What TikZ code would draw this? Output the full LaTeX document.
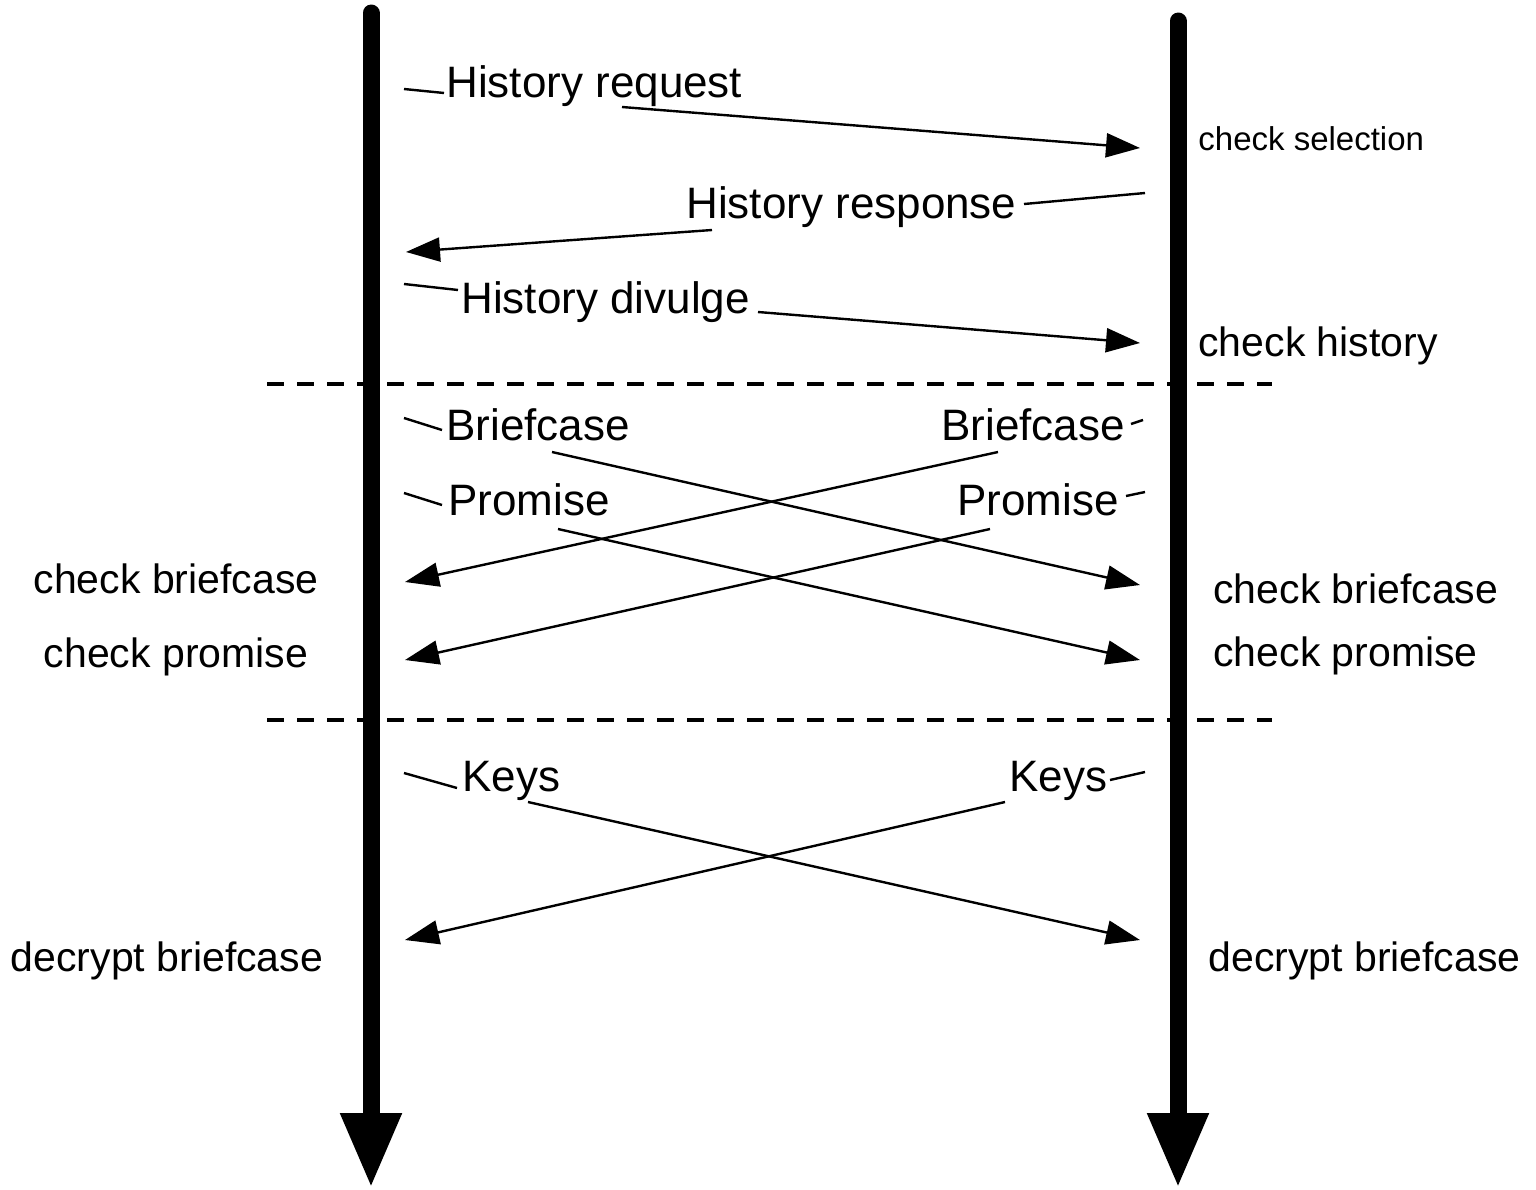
\documentclass[tikz,border=0pt]{standalone}
\usepackage{fontspec}
\setmainfont{Liberation Sans}
\usetikzlibrary{arrows.meta}
\begin{document}
\begin{tikzpicture}[x=0.5pt,y=-0.5pt,
  msg/.style={inner sep=0pt, anchor=base west, font=\fontsize{22pt}{26pt}\selectfont},
  note/.style={inner sep=0pt, font=\fontsize{20.5pt}{24pt}\selectfont},
  smallnote/.style={inner sep=0pt, anchor=base west, font=\fontsize{16.5pt}{20pt}\selectfont},
  lifeline/.style={line width=8.5pt, line cap=round, -{Triangle[length=37.5pt,width=28.5pt]}},
  phase/.style={line width=1.8pt, dash pattern=on 8.5pt off 6.5pt},
  lead/.style={line width=1.2pt},
  message/.style={line width=1.2pt, -{Triangle[length=17pt,width=12pt]}}
]
\useasboundingbox (0,0) rectangle (1536,1189);

% phase separators
\coordinate (s1a) at (267,384);  \coordinate (s1b) at (1272,384);
\coordinate (s2a) at (267,720);  \coordinate (s2b) at (1272,720);
\draw[phase] (s1a) -- (s1b);
\draw[phase] (s2a) -- (s2b);

% the two parties' time lines
\coordinate (lt) at (371,13);   \coordinate (lb) at (371,1188);
\coordinate (rt) at (1178,21);  \coordinate (rb) at (1178,1188);
\draw[lifeline] (lt) -- (lb);
\draw[lifeline] (rt) -- (rb);

% message labels
\node[msg] (hreq)  at (446,97)  {History request};
\node[msg] (hresp) at (686,218) {History response};
\node[msg] (hdiv)  at (461,313) {History divulge};
\node[msg] (bcl)   at (446,440) {Briefcase};
\node[msg] (bcr)   at (941,440) {Briefcase};
\node[msg] (prl)   at (448,515) {Promise};
\node[msg] (prr)   at (957,515) {Promise};
\node[msg] (kyl)   at (462,791) {Keys};
\node[msg] (kyr)   at (1009,791) {Keys};

% actions on each side
\node[smallnote] (csel) at (1198,150) {check selection};
\node[note, anchor=base west] (chist) at (1198,356) {check history};
\node[note, anchor=base] (cbl) at (176,593) {check briefcase};
\node[note, anchor=base] (cpl) at (176,667) {check promise};
\node[note, anchor=base west] (cbr) at (1213,603) {check briefcase};
\node[note, anchor=base west] (cpr) at (1213,666) {check promise};
\node[note, anchor=base] (dbl) at (167,971) {decrypt briefcase};
\node[note, anchor=base west] (dbr) at (1208,971) {decrypt briefcase};

% end points of the message lines
\coordinate (hreqA) at (404,89);   \coordinate (hreqB) at (444,93);
\coordinate (hreqC) at (622,107);  \coordinate (hreqD) at (1140,148);
\coordinate (hrespA) at (1145,193); \coordinate (hrespB) at (1024,204);
\coordinate (hrespC) at (712,230);  \coordinate (hrespD) at (406,252);
\coordinate (hdivA) at (404,284);  \coordinate (hdivB) at (458,290);
\coordinate (hdivC) at (758,312);  \coordinate (hdivD) at (1140,343);
\coordinate (bclA) at (404,418);   \coordinate (bclB) at (442,430);
\coordinate (bclC) at (552,452);   \coordinate (bclD) at (1140,585);
\coordinate (bcrA) at (1143,420);  \coordinate (bcrB) at (1131,424);
\coordinate (bcrC) at (998,452);   \coordinate (bcrD) at (405,582);
\coordinate (prlA) at (404,493);   \coordinate (prlB) at (442,505);
\coordinate (prlC) at (558,529);   \coordinate (prlD) at (1140,660);
\coordinate (prrA) at (1145,492);  \coordinate (prrB) at (1126,496);
\coordinate (prrC) at (990,529);   \coordinate (prrD) at (405,660);
\coordinate (kylA) at (404,773);   \coordinate (kylB) at (457,788);
\coordinate (kylC) at (528,802);   \coordinate (kylD) at (1140,940);
\coordinate (kyrA) at (1145,772);  \coordinate (kyrB) at (1110,780);
\coordinate (kyrC) at (1005,802);  \coordinate (kyrD) at (405,940);

\foreach \m in {hreq,hresp,hdiv,bcl,bcr,prl,prr,kyl,kyr}{
  \draw[lead] (\m A) -- (\m B);
  \draw[message] (\m C) -- (\m D);
}
\end{tikzpicture}
\end{document}
